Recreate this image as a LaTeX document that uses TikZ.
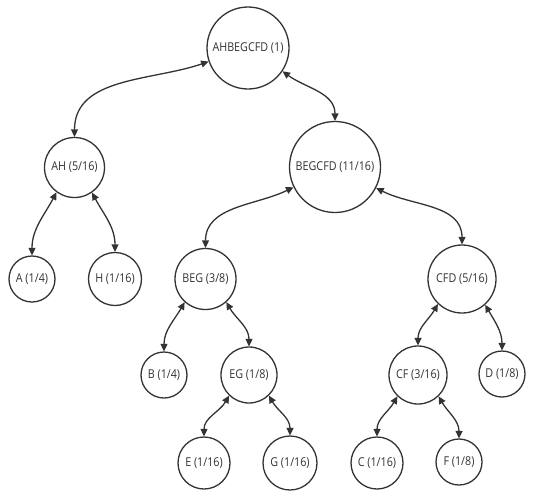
\documentclass[tikz,border=0pt]{standalone}
\usepackage{fontspec}
\setmainfont{Open Sans}[FakeStretch=0.88]
\usetikzlibrary{arrows.meta}
\definecolor{ink}{HTML}{333333}
\tikzset{
  nd/.style={circle, draw=ink, line width=1.3pt, fill=white, inner sep=0pt, text=ink, font=\fontsize{12.2}{14}\selectfont},
  edge/.style={draw=ink, line width=1.3pt, {Triangle[length=7.5pt,width=7pt]}-{Triangle[length=7.5pt,width=7pt]}}
}
\begin{document}
\begin{tikzpicture}[x=1pt,y=-1pt]
\useasboundingbox (0,0) rectangle (535,499);
\node[nd, minimum size=82pt] (root) at (248,48) {AHBEGCFD (1)};
\node[nd, minimum size=60pt] (AH) at (74.5,167.5) {AH (5/16)};
\node[nd, minimum size=91pt] (BEGCFD) at (335,167) {BEGCFD (11/16)};
\node[nd, minimum size=46pt] (A) at (32,279) {A (1/4)};
\node[nd, minimum size=53pt] (H) at (115,279) {H (1/16)};
\node[nd, minimum size=61pt] (BEG) at (205.5,279) {BEG (3/8)};
\node[nd, minimum size=68pt] (CFD) at (462,279) {CFD (5/16)};
\node[nd, minimum size=46pt] (B) at (164,375) {B (1/4)};
\node[nd, minimum size=56pt] (EG) at (249,375) {EG (1/8)};
\node[nd, minimum size=58pt] (CF) at (418,375) {CF (3/16)};
\node[nd, minimum size=46pt] (D) at (502,374) {D (1/8)};
\node[nd, minimum size=52pt] (E) at (204,463) {E (1/16)};
\node[nd, minimum size=54pt] (G) at (290,463) {G (1/16)};
\node[nd, minimum size=52pt] (C) at (377,463) {C (1/16)};
\node[nd, minimum size=46pt] (F) at (459,462) {F (1/8)};

\draw[edge] (root.199) to[out=199, in=90] (AH.north);
\draw[edge] (root.-34) to[out=-36, in=90] (BEGCFD.north);
\draw[edge] (AH.234) to[out=242, in=90] (A.north);
\draw[edge] (AH.-55) to[out=-62, in=90] (H.north);
\draw[edge] (BEGCFD.206) to[out=206, in=90] (BEG.north);
\draw[edge] (BEGCFD.-27) to[out=-27, in=90] (CFD.north);
\draw[edge] (BEG.228) to[out=240, in=90] (B.north);
\draw[edge] (BEG.-48) to[out=-60, in=90] (EG.north);
\draw[edge] (CFD.226) to[out=240, in=90] (CF.north);
\draw[edge] (CFD.-48) to[out=-60, in=90] (D.north);
\draw[edge] (EG.226) to[out=240, in=90] (E.north);
\draw[edge] (EG.-46) to[out=-60, in=90] (G.north);
\draw[edge] (CF.226) to[out=240, in=90] (C.north);
\draw[edge] (CF.-46) to[out=-60, in=90] (F.north);
\end{tikzpicture}
\end{document}
